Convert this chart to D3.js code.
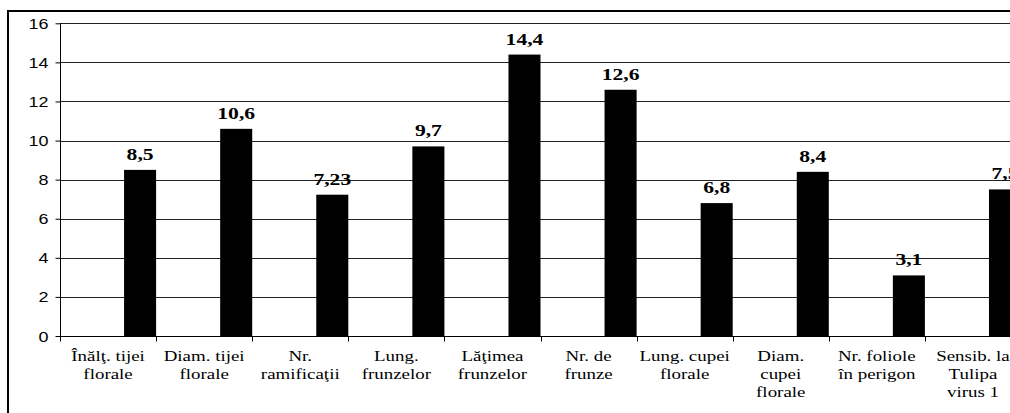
<!DOCTYPE html>
<html>
<head>
<meta charset="utf-8">
<script src="https://cdn.jsdelivr.net/npm/d3@7"></script>
<style>
  html, body { margin: 0; padding: 0; background: #fff; overflow: hidden; }
  .serif { font-family: "Liberation Serif", "Times New Roman", "DejaVu Serif", "Noto Serif", serif; }
  .sans { font-family: "Liberation Sans", Arial, Helvetica, sans-serif; }
</style>
</head>
<body>
<div id="chart"></div>
<script>
const WIDTH = 1010;
const HEIGHT = 413;

// date
const categories = [
    ["Înălţ. tijei", "florale"],
    ["Diam. tijei", "florale"],
    ["Nr.", "ramificaţii"],
    ["Lung.", "frunzelor"],
    ["Lăţimea", "frunzelor"],
    ["Nr. de", "frunze"],
    ["Lung. cupei", "florale"],
    ["Diam.", "cupei", "florale"],
    ["Nr. foliole", "în perigon"],
    ["Sensib. la", "Tulipa", "virus 1"]
];
const values = [8.5, 10.6, 7.23, 9.7, 14.4, 12.6, 6.8, 8.4, 3.1, 7.5];
const valueLabels = ["8,5", "10,6", "7,23", "9,7", "14,4", "12,6", "6,8", "8,4", "3,1", "7,5"];
const yTicks = [0, 2, 4, 6, 8, 10, 12, 14, 16];

const svg = d3.select("#chart")
    .append("svg")
    .attr("width", WIDTH)
    .attr("height", HEIGHT);

// textul din original e latit pe orizontala; masuram si potrivim
function stretchFor(cls, size, weight, sample, target) {
    const t = svg.append("text")
        .attr("class", cls)
        .style("font-size", size + "px")
        .style("font-weight", weight)
        .text(sample);
    const w = t.node().getComputedTextLength();
    t.remove();
    return w > 0 ? target / w : 1;
}
const S_CAT = stretchFor("serif", 14, "normal", "Diam. tijei", 81);
const S_VAL = stretchFor("serif", 16, "bold", "8,5", 27);
const S_Y = stretchFor("sans", 14, "normal", "16", 20);

// chenar exterior
svg.append("rect")
    .attr("x", 8)
    .attr("y", 11)
    .attr("width", 1100)
    .attr("height", 500)
    .attr("fill", "none")
    .attr("stroke", "#000")
    .attr("stroke-width", 2);

const x = d3.scaleBand()
    .domain(d3.range(categories.length))
    .range([60, 1021])
    .padding(0);

const y = d3.scaleLinear()
    .domain([0, 16])
    .range([336, 23.3]);

// linii de grila
svg.append("g")
    .selectAll("line")
    .data(yTicks)
    .enter()
    .append("line")
    .attr("x1", 60)
    .attr("x2", 1021)
    .attr("y1", d => Math.round(y(d)) + 0.5)
    .attr("y2", d => Math.round(y(d)) + 0.5)
    .attr("stroke", "#222")
    .attr("stroke-width", 1);

// axa y
const yAxis = svg.append("g")
    .attr("transform", "translate(60.5,0)")
    .call(d3.axisLeft(y).tickValues(yTicks).tickSize(5).tickSizeOuter(0).tickFormat(d3.format("d")));
yAxis.attr("font-family", null).attr("font-size", null);
yAxis.selectAll("line, path").attr("stroke", "#000");
yAxis.selectAll("text")
    .attr("class", "sans")
    .style("font-size", "14px")
    .attr("fill", "#000")
    .attr("x", null)
    .attr("dy", null)
    .attr("transform", `translate(-12,5) scale(${S_Y},1)`);
yAxis.select(".domain")
    .attr("d", `M0,${y(16)}V${Math.round(y(0)) + 0.5}`);

// bare
svg.append("g")
    .selectAll("rect")
    .data(values)
    .enter()
    .append("rect")
    .attr("x", (d, i) => x(i) + x.bandwidth() * 2 / 3)
    .attr("width", x.bandwidth() / 3)
    .attr("y", d => y(d))
    .attr("height", d => y(0) - y(d))
    .attr("fill", "#000");

// etichete valori
svg.append("g")
    .selectAll("text")
    .data(values)
    .enter()
    .append("text")
    .attr("class", "serif")
    .attr("transform", (d, i) => `translate(${x(i) + x.bandwidth() * 5 / 6},${y(d) - 10}) scale(${S_VAL},1)`)
    .attr("text-anchor", "middle")
    .style("font-weight", "bold")
    .style("font-size", "16px")
    .text((d, i) => valueLabels[i]);

// axa x
const xAxis = svg.append("g")
    .attr("transform", `translate(0,${Math.round(y(0)) + 0.5})`);
xAxis.append("line")
    .attr("x1", 60)
    .attr("x2", 1021)
    .attr("stroke", "#000");
xAxis.selectAll(".tick")
    .data(d3.range(categories.length + 1))
    .enter()
    .append("line")
    .attr("class", "tick")
    .attr("x1", d => Math.round(d < categories.length ? x(d) : 1021) + 0.5)
    .attr("x2", d => Math.round(d < categories.length ? x(d) : 1021) + 0.5)
    .attr("y2", 5)
    .attr("stroke", "#000");

const labels = xAxis.selectAll(".cat")
    .data(categories)
    .enter()
    .append("g")
    .attr("class", "cat")
    .attr("transform", (d, i) => `translate(${x(i) + x.bandwidth() / 2},0)`);

labels.selectAll("text")
    .data(d => d)
    .enter()
    .append("text")
    .attr("class", "serif")
    .attr("transform", (d, j) => `translate(0,${24 + j * 18}) scale(${S_CAT},1)`)
    .attr("text-anchor", "middle")
    .style("font-size", "14px")
    .attr("fill", "#000")
    .text(d => d);
</script>
</body>
</html>
